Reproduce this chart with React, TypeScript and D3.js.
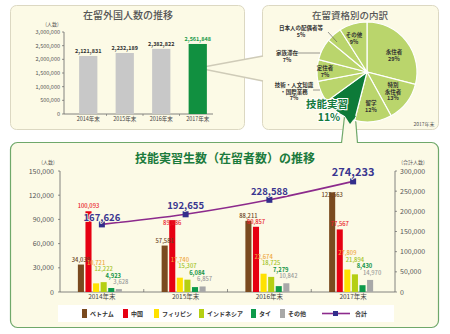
import React from "react";
import * as d3 from "d3";

const FONT = '"Noto Sans CJK JP", "Noto Sans", sans-serif';

// Top-left: foreign residents
const topYears = ["2014年末", "2015年末", "2016年末", "2017年末"];
const topValues = [2121831, 2232189, 2382822, 2561848];
const topTicks = [0, 500000, 1000000, 1500000, 2000000, 2500000, 3000000];

// Pie: residence status
const pieLabels = ["永住者", "特別永住者", "留学", "技能実習", "技術・人文知識・国際業務", "定住者", "家族滞在", "日本人の配偶者等", "その他"];
const pieValues = [29, 13, 12, 11, 7, 7, 7, 5, 9];

// Lower: technical intern trainees
const years = ["2014年末", "2015年末", "2016年末", "2017年末"];
const seriesNames = ["ベトナム", "中国", "フィリピン", "インドネシア", "タイ", "その他"];
const vietnam = [34039, 57581, 88211, 123563];
const china = [100093, 89086, 80857, 77567];
const philippines = [10721, 17740, 22674, 27809];
const indonesia = [12222, 15307, 18725, 21894];
const thailand = [4923, 6084, 7279, 8430];
const others = [3628, 6857, 10842, 14970];
const totals = [167626, 192655, 228588, 274233];
const leftTicks = [0, 30000, 60000, 90000, 120000, 150000];
const rightTicks = [0, 50000, 100000, 150000, 200000, 250000, 300000];

const seriesData = [vietnam, china, philippines, indonesia, thailand, others];
const barColors = ["#7a4a1f", "#e60012", "#ffe100", "#b5cf12", "#0d9a4a", "#a8a8a8"];
const labelColors = ["#6b4423", "#e8202a", "#eea63a", "#a2c225", "#129445", "#9a9a9a"];

const CREAM = "#fcfae6";
const fmt = d3.format(",");

export default function App() {
  // top-left scales
  const tx = d3.scaleBand<string>().domain(topYears).range([70, 216]).paddingInner(0.5).paddingOuter(0.25);
  const ty = d3.scaleLinear().domain([0, 3000000]).range([114, 32]);

  // pie
  const pcx = 367, pcy = 72, pr = 50;
  const pie = d3.pie<number>().sort(null).value((d) => d)(pieValues);
  const arc = d3.arc<d3.PieArcDatum<number>>().innerRadius(0).outerRadius(pr);

  // lower scales
  const x = d3.scaleBand<string>().domain(years).range([60, 395]);
  const inner = d3.scaleBand<string>().domain(seriesNames).range([-24, 20]).paddingInner(0.2);
  const yL = d3.scaleLinear().domain([0, 150000]).range([292, 171]);
  const yR = d3.scaleLinear().domain([0, 300000]).range([292, 171]);
  const cx = (i: number) => (x(years[i]) as number) + x.bandwidth() / 2;

  const line = d3
    .line<number>()
    .x((_, i) => cx(i))
    .y((d) => yR(d))
    .curve(d3.curveMonotoneX);

  // label placement for lower chart
  const labels: { x: number; y: number; text: string; color: string; weight: number }[] = [];
  years.forEach((yr, i) => {
    const lineY = yR(totals[i]);
    [0, 1].forEach((s) => {
      const v = seriesData[s][i];
      const top = yL(v);
      let by = top - 3;
      if (Math.abs(by - lineY) < 10) by = top + 5;
      labels.push({
        x: cx(i) + (inner(seriesNames[s]) as number) + inner.bandwidth() / 2,
        y: by,
        text: fmt(v),
        color: labelColors[s],
        weight: 500,
      });
    });
    let prev = Infinity;
    for (let s = 5; s >= 2; s--) {
      const v = seriesData[s][i];
      const top = yL(v);
      const by = Math.min(top - 5, prev - 6.5);
      prev = by;
      labels.push({
        x: cx(i) + (inner(seriesNames[s]) as number) + inner.bandwidth() / 2 + (s >= 4 ? 2 : 0),
        y: by,
        text: fmt(v),
        color: labelColors[s],
        weight: s === 4 ? 700 : 500,
      });
    }
  });

  const pieLabelDefs: { lines: string[]; x: number; y: number; leader?: [number, number, number, number] }[] = [
    { lines: ["永住者", "29%"], x: 394, y: 54 },
    { lines: ["特別", "永住者", "13%"], x: 393, y: 87 },
    { lines: ["留学", "12%"], x: 371, y: 105 },
    { lines: [], x: 0, y: 0 },
    { lines: ["技術・人文知識", "・国際業務", "7%"], x: 294, y: 87, leader: [313, 90, 320, 90] },
    { lines: ["定住者", "7%"], x: 325, y: 70 },
    { lines: ["家族滞在", "7%"], x: 287, y: 55, leader: [297, 53, 320, 53] },
    { lines: ["日本人の配偶者等", "5%"], x: 301, y: 30, leader: [328, 32, 337, 42] },
    { lines: ["その他", "9%"], x: 354, y: 37 },
  ];

  const legendX = [82, 123, 154, 199, 251, 280];

  return (
    <svg width={450} height={334} style={{ position: "absolute", left: 0, top: 0, fontFamily: FONT }}>
      <rect width={450} height={334} fill="#ffffff" />
      {/* panels */}
      <rect x={10.5} y={5.5} width={234} height={124} rx={6} fill={CREAM} stroke="#dcd8c2" />
      <rect x={262.5} y={5.5} width={176} height={124} rx={6} fill={CREAM} stroke="#dcd8c2" />
      <rect x={10.5} y={142.5} width={428} height={185} rx={7} fill={CREAM} stroke="#6fa86a" strokeWidth={1.2} />

      {/* wedge callout from green bar to pie panel */}
      <polygon points="198,68 263,56 263,81" fill={CREAM} />
      <line x1={198} y1={68} x2={263} y2={56} stroke="#cfcbb8" strokeWidth={1.5} />
      <line x1={198} y1={68} x2={263} y2={81} stroke="#cfcbb8" strokeWidth={1.5} />

      {/* lower callout from pie slice */}
      <polygon points="345,110 341,144 358,144 355,110" fill={CREAM} />
      <line x1={345} y1={112} x2={341.5} y2={143} stroke="#6fa86a" strokeWidth={1.2} />
      <line x1={355} y1={112} x2={357.5} y2={143} stroke="#6fa86a" strokeWidth={1.2} />

      {/* ---- top-left chart ---- */}
      <text x={128} y={19} textAnchor="middle" fontSize={10} fill="#555" fontWeight={500}>在留外国人数の推移</text>
      <text x={52} y={26} textAnchor="middle" fontSize={5} fill="#555">(人数)</text>
      {topTicks.map((t) => (
        <g key={t}>
          <line x1={62} x2={64} y1={ty(t)} y2={ty(t)} stroke="#666" strokeWidth={0.7} />
          <text x={60} y={ty(t) + 2} textAnchor="end" fontSize={5.5} fill="#555">{fmt(t)}</text>
        </g>
      ))}
      <line x1={64} x2={64} y1={32} y2={114} stroke="#666" strokeWidth={0.8} />
      <line x1={64} x2={213} y1={114} y2={114} stroke="#666" strokeWidth={0.8} />
      {topYears.map((yr, i) => {
        const bx = tx(yr) as number;
        const isLast = i === topYears.length - 1;
        return (
          <g key={yr}>
            <rect x={bx} y={ty(topValues[i])} width={tx.bandwidth()} height={114 - ty(topValues[i])} fill={isLast ? "#119040" : "#c8c8c8"} />
            <text x={bx + tx.bandwidth() / 2} y={ty(topValues[i]) - 3} textAnchor="middle" fontSize={5.5} fontWeight={700} fill={isLast ? "#1a9a4a" : "#333"}>{fmt(topValues[i])}</text>
            <text x={bx + tx.bandwidth() / 2} y={121} textAnchor="middle" fontSize={5.5} fill="#444">{yr}</text>
            {i > 0 && <line x1={bx - tx.step() * 0.25} x2={bx - tx.step() * 0.25} y1={114} y2={116} stroke="#666" strokeWidth={0.6} />}
          </g>
        );
      })}

      {/* ---- pie ---- */}
      <text x={350} y={19} textAnchor="middle" fontSize={9.5} fill="#555" fontWeight={500}>在留資格別の内訳</text>
      <g transform={`translate(${pcx},${pcy})`}>
        {pie.map((d, i) => (
          <path key={i} d={arc(d) as string} fill={i === 3 ? "#0d7a38" : "#bad56c"} stroke="#ffffff" strokeWidth={1.2} />
        ))}
      </g>
      <polygon points="341,110 356,116 350,124" fill="#0d7a38" />
      {pieLabelDefs.map((p, i) =>
        p.lines.length ? (
          <g key={i}>
            {p.leader && <line x1={p.leader[0]} y1={p.leader[1]} x2={p.leader[2]} y2={p.leader[3]} stroke="#555" strokeWidth={0.6} />}
            {p.lines.map((l, j) => (
              <text key={j} x={p.x} y={p.y + j * 6.5} textAnchor="middle" fontSize={5.5} fontWeight={700} fill="#333">{l}</text>
            ))}
          </g>
        ) : null
      )}
      <text x={327} y={108} textAnchor="middle" fontSize={10.5} fontWeight={700} fill="#137a3c" stroke="#ffffff" strokeWidth={2} paintOrder="stroke">{pieLabels[3]}</text>
      <text x={329} y={121} textAnchor="middle" fontSize={10.5} fontWeight={700} fill="#137a3c" stroke="#ffffff" strokeWidth={2} paintOrder="stroke">{pieValues[3] + "%"}</text>
      <text x={424} y={126} textAnchor="middle" fontSize={5} fill="#555">2017年末</text>

      {/* ---- lower chart ---- */}
      <text x={225} y={163} textAnchor="middle" fontSize={12} fontWeight={700} fill="#1b7a3c">技能実習生数（在留者数）の推移</text>
      <text x={48} y={164} textAnchor="middle" fontSize={5} fill="#555">(人数)</text>
      <text x={413} y={164} textAnchor="middle" fontSize={5} fill="#555">(合計人数)</text>
      {leftTicks.map((t) => (
        <g key={"l" + t}>
          <line x1={58} x2={60} y1={yL(t)} y2={yL(t)} stroke="#666" strokeWidth={0.7} />
          <text x={54} y={yL(t) + 2.5} textAnchor="end" fontSize={7} fill="#555">{fmt(t)}</text>
        </g>
      ))}
      {rightTicks.map((t) => (
        <g key={"r" + t}>
          <line x1={395} x2={397} y1={yR(t)} y2={yR(t)} stroke="#666" strokeWidth={0.7} />
          <text x={400} y={yR(t) + 2.5} textAnchor="start" fontSize={7} fill="#555">{fmt(t)}</text>
        </g>
      ))}
      <line x1={60} x2={60} y1={171} y2={292} stroke="#666" strokeWidth={0.8} />
      <line x1={395} x2={395} y1={171} y2={292} stroke="#666" strokeWidth={0.8} />
      <line x1={60} x2={395} y1={292} y2={292} stroke="#666" strokeWidth={0.8} />
      {years.map((yr, i) => (
        <g key={yr}>
          {i > 0 && <line x1={x(yr) as number} x2={x(yr) as number} y1={289} y2={292} stroke="#666" strokeWidth={0.7} />}
          <text x={cx(i)} y={298.5} textAnchor="middle" fontSize={6.5} fill="#444">{yr}</text>
          {seriesNames.map((s, k) => {
            const v = seriesData[k][i];
            return (
              <rect key={s} x={cx(i) + (inner(s) as number)} y={yL(v)} width={inner.bandwidth()} height={292 - yL(v)} fill={barColors[k]} />
            );
          })}
        </g>
      ))}
      {labels.map((l, i) => (
        <text key={i} x={l.x} y={l.y} textAnchor="middle" fontSize={5.8} fontWeight={l.weight} fill={l.color}>{l.text}</text>
      ))}
      <path d={line(totals) as string} fill="none" stroke="#8c2a8c" strokeWidth={1.6} />
      {totals.map((t, i) => (
        <g key={i}>
          <rect x={cx(i) - 3} y={yR(t) - 3} width={6} height={6} fill="#332e8c" />
          <text x={cx(i)} y={yR(t) - (i === 0 ? 3 : 5)} textAnchor="middle" fontSize={i === 3 ? 11 : 9.5} fontWeight={700} fill="#3a3690" stroke={CREAM} strokeWidth={1.5} paintOrder="stroke">{fmt(t)}</text>
        </g>
      ))}

      {/* legend */}
      <rect x={58} y={305} width={336} height={17} fill="#ffffff" />
      {seriesNames.map((s, k) => (
        <g key={s}>
          <rect x={legendX[k]} y={309} width={5} height={9} fill={barColors[k]} />
          <text x={legendX[k] + 8} y={316} fontSize={6} fontWeight={700} fill="#333">{s}</text>
        </g>
      ))}
      <line x1={322} x2={350} y1={313.5} y2={313.5} stroke="#8c2a8c" strokeWidth={1.6} />
      <rect x={333} y={311} width={5} height={5} fill="#332e8c" />
      <text x={355} y={316} fontSize={6} fontWeight={700} fill="#333">合計</text>
    </svg>
  );
}
